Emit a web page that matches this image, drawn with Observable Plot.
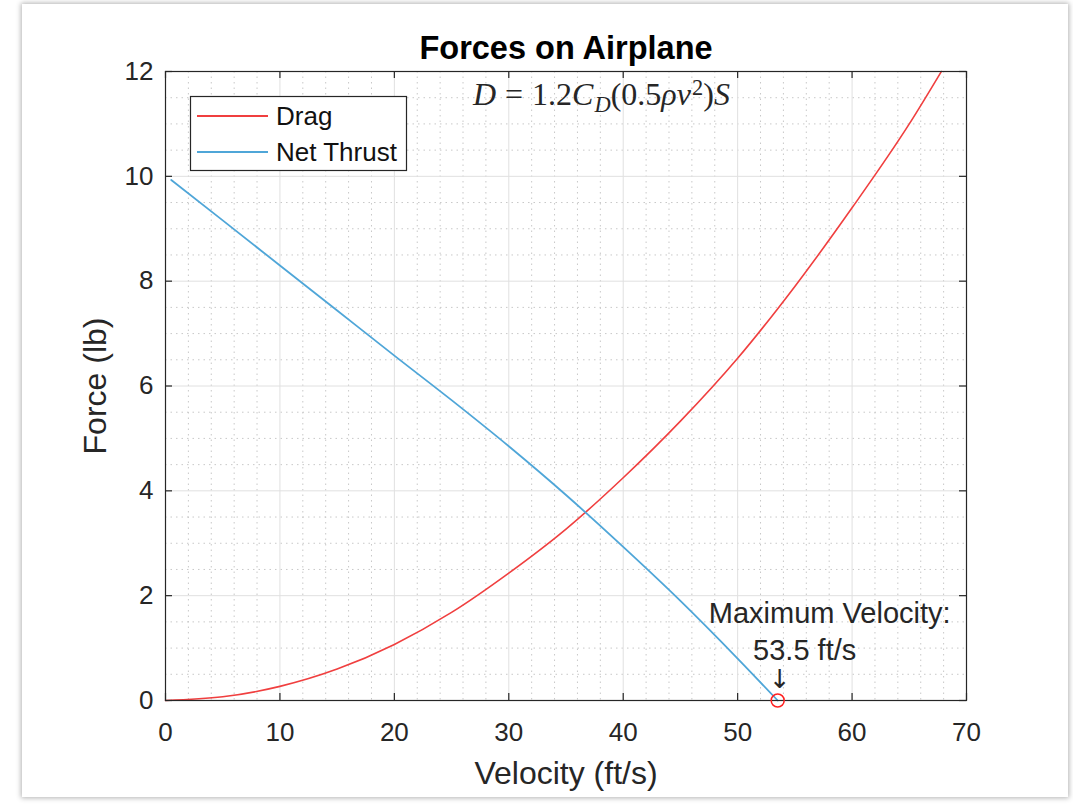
<!DOCTYPE html>
<html><head><meta charset="utf-8">
<script src="https://cdn.jsdelivr.net/npm/d3@7"></script>
<script src="https://cdn.jsdelivr.net/npm/@observablehq/plot@0.6"></script>
<style>
body{margin:0;background:#fff;font-family:"Liberation Sans",Arial,sans-serif;}
#wrap{position:relative;width:1073px;height:808px;overflow:hidden;background:#fff;}
#frame{position:absolute;left:22px;top:4px;width:1046px;height:793px;background:#fff;box-shadow:0 0 5px 1px rgba(0,0,0,0.3);}
#chart{position:absolute;left:0;top:0;}
#formula{position:absolute;left:473px;top:78px;font-family:"Liberation Serif","Times New Roman",serif;font-size:32px;line-height:1;color:#262626;white-space:nowrap;}
#formula .rel{margin:0 0.28em;}
#formula sub,#formula sup{font-size:70%;line-height:0;position:relative;vertical-align:baseline;}
#formula sub{top:0.3em;margin-left:0.05em;}
#formula sup{top:-0.45em;margin-left:0.05em;}
#legend{position:absolute;left:0;top:0;}
</style></head><body>
<div id="wrap"><div id="frame"></div><div id="chart"></div>
<div id="formula"><i>D</i><span class="rel">=</span>1.2<i>C</i><sub><i>D</i></sub>(0.5<i>ρv</i><sup>2</sup>)<i>S</i></div>
<svg id="legend" width="1073" height="808"></svg>
</div>
<script>
// ---- data ----
const dragVelocity = [0, 5, 10, 15, 20, 25, 30, 35, 40, 45, 50, 55, 60, 65, 67.8];
const dragForce    = [0, 0.07, 0.27, 0.6, 1.07, 1.68, 2.43, 3.27, 4.25, 5.33, 6.53, 7.9, 9.4, 11.0, 12];
const thrustVelocity = [0.5, 5, 10, 15, 20, 25, 30, 35, 40, 45, 50, 53.5];
const thrustForce    = [9.93, 9.16, 8.3, 7.44, 6.58, 5.73, 4.85, 3.92, 2.93, 1.9, 0.8, 0];
const seriesNames  = ["Drag", "Net Thrust"];
const seriesColors = ["#f03f3f", "#4fa6d8"];
const xMajorTicks = [0, 10, 20, 30, 40, 50, 60, 70];
const yMajorTicks = [0, 2, 4, 6, 8, 10, 12];
const xMinorTicks = [2,4,6,8,12,14,16,18,22,24,26,28,32,34,36,38,42,44,46,48,52,54,56,58,62,64,66,68];
const yMinorTicks = [0.5,1,1.5,2.5,3,3.5,4.5,5,5.5,6.5,7,7.5,8.5,9,9.5,10.5,11,11.5];
const maxVelocity = [{v: 53.5, f: 0}];
const titleText = "Forces on Airplane";
const xLabel = "Velocity (ft/s)";
const yLabel = "Force (lb)";
const annotLine1 = "Maximum Velocity:";
const annotLine2 = "53.5 ft/s";

const dragData = dragVelocity.map((v, i) => ({v, f: dragForce[i]}));
const thrustData = thrustVelocity.map((v, i) => ({v, f: thrustForce[i]}));

const W = 1073, H = 808, mL = 165, mR = 107, mT = 71, mB = 108;
const pw = W - mL - mR, ph = H - mT - mB, tk = 7;
const axisColor = "#262626";

const chart = Plot.plot({
  width: W, height: H,
  marginLeft: mL, marginRight: mR, marginTop: mT, marginBottom: mB,
  x: {domain: [0, 70]},
  y: {domain: [0, 12]},
  style: {fontFamily: "'Liberation Sans', Arial, sans-serif", fontSize: "26px", color: axisColor, background: "transparent"},
  marks: [
    Plot.ruleX(xMinorTicks, {stroke: "#c8c8c8", strokeDasharray: "1.5,4", strokeWidth: 1}),
    Plot.ruleY(yMinorTicks, {stroke: "#c8c8c8", strokeDasharray: "1.5,4", strokeWidth: 1}),
    Plot.ruleX(xMajorTicks, {stroke: "#e0e0e0", strokeWidth: 1}),
    Plot.ruleY(yMajorTicks, {stroke: "#e0e0e0", strokeWidth: 1}),
    Plot.line(dragData, {x: "v", y: "f", stroke: seriesColors[0], strokeWidth: 1.6, curve: "monotone-x"}),
    Plot.line(thrustData, {x: "v", y: "f", stroke: seriesColors[1], strokeWidth: 1.8, curve: "monotone-x"}),
    Plot.frame({stroke: axisColor, strokeWidth: 1.2}),
    Plot.ruleX(xMajorTicks, {stroke: axisColor, strokeWidth: 1.2, insetTop: ph - tk}),
    Plot.ruleX(xMajorTicks, {stroke: axisColor, strokeWidth: 1.2, insetBottom: ph - tk}),
    Plot.ruleY(yMajorTicks, {stroke: axisColor, strokeWidth: 1.2, insetRight: pw - tk}),
    Plot.ruleY(yMajorTicks, {stroke: axisColor, strokeWidth: 1.2, insetLeft: pw - tk}),
    Plot.axisX({ticks: xMajorTicks, tickSize: 0, tickPadding: 22, fontSize: 26, fill: axisColor, label: null}),
    Plot.axisY({ticks: yMajorTicks, tickSize: 0, tickPadding: 12, fontSize: 26, fill: axisColor, label: null}),
    Plot.text([titleText], {frameAnchor: "top", dy: -36, fontWeight: "bold", fontSize: 32.5, fill: "#000"}),
    Plot.text([xLabel], {frameAnchor: "bottom", dy: 83, fontSize: 32, fill: axisColor}),
    Plot.text([yLabel], {frameAnchor: "left", dx: -70, rotate: -90, textAnchor: "middle", lineAnchor: "middle", fontSize: 32, fill: axisColor}),
    Plot.dot(maxVelocity, {x: "v", y: "f", r: 6.5, stroke: "#ff2020", strokeWidth: 1.5, fill: "none"}),
    Plot.text(maxVelocity, {x: "v", y: "f", text: () => annotLine1, dx: 52, dy: -87, fontSize: 29, fill: axisColor}),
    Plot.text(maxVelocity, {x: "v", y: "f", text: () => annotLine2, dx: 27, dy: -50, fontSize: 29, fill: axisColor}),
    Plot.text(maxVelocity, {x: "v", y: "f", text: () => "↓", dx: 2, dy: -21, fontSize: 26, fill: axisColor, fontFamily: "DejaVu Sans"})
  ]
});
document.getElementById("chart").appendChild(chart);

// legend
const lg = d3.select("#legend");
lg.append("rect").attr("x", 190.5).attr("y", 96.5).attr("width", 216).attr("height", 74)
  .attr("fill", "#fff").attr("stroke", axisColor).attr("stroke-width", 1.2);
seriesNames.forEach((name, i) => {
  const yy = 116 + i * 36;
  lg.append("line").attr("x1", 197).attr("x2", 268).attr("y1", yy).attr("y2", yy)
    .attr("stroke", seriesColors[i]).attr("stroke-width", 1.8);
  lg.append("text").attr("x", 276).attr("y", yy).attr("dy", "0.35em")
    .attr("font-size", 26).attr("fill", "#111").attr("font-family", "'Liberation Sans', Arial, sans-serif")
    .text(name);
});
</script>
</body></html>
